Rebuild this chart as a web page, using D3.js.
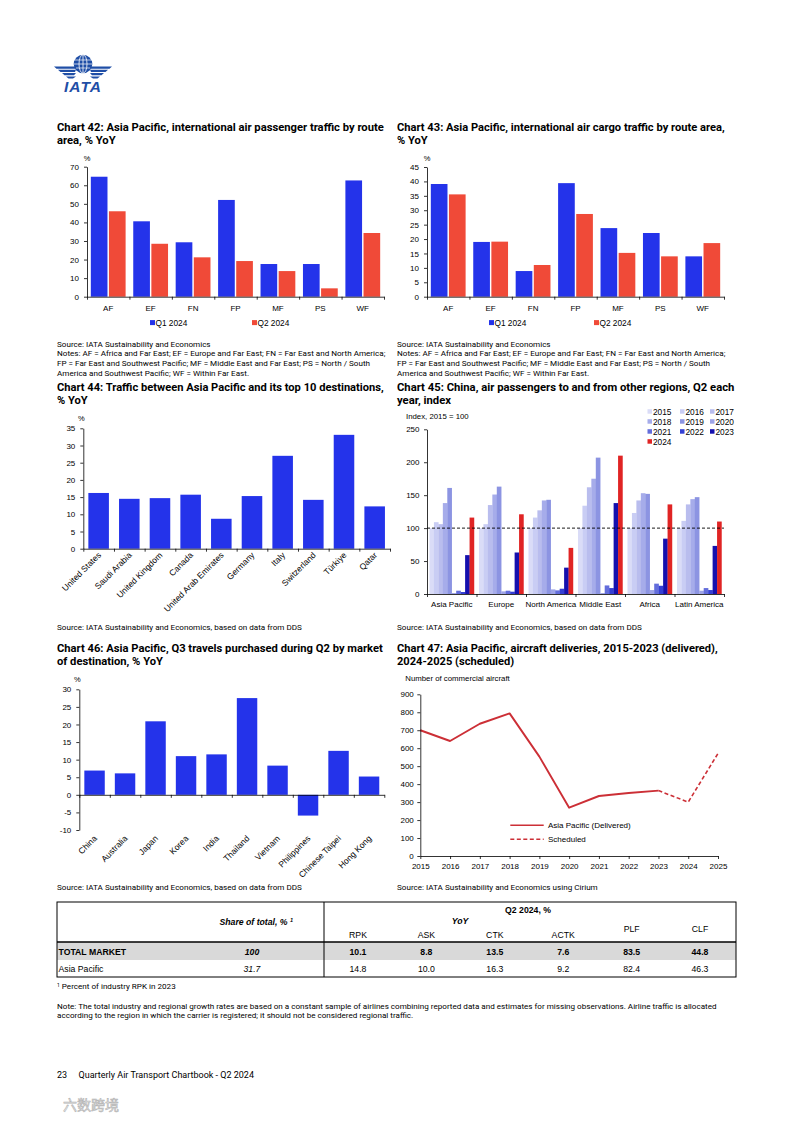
<!DOCTYPE html>
<html>
<head>
<meta charset="utf-8">
<title>Quarterly Air Transport Chartbook - Q2 2024, page 23</title>
<script src="https://cdn.jsdelivr.net/npm/d3@7"></script>
<style>
  body { margin: 0; background: #fff; }
  svg text { font-family: "Liberation Sans", Arial, sans-serif; fill: #000; }
  .title { font-family: Roboto, sans-serif; font-weight: 700; font-size: 11.5px; }
  .note { font-family: Roboto, sans-serif; font-size: 8.1px; }
  .axis path, .axis line { stroke: #000; stroke-width: 0.8px; }
  .axis text { font-family: "Liberation Sans", Arial, sans-serif; font-size: 8px; }
  .tbl { font-family: Roboto, sans-serif; font-size: 8.7px; }
</style>
</head>
<body>
<svg id="page" width="793" height="1121"></svg>
<script>

////////////////////////////////////////////////////////
// data
////////////////////////////////////////////////////////

// charts 42 and 43: route areas, % YoY
var routeAreas = ["AF", "EF", "FN", "FP", "MF", "PS", "WF"];
var quarters   = ["Q1 2024", "Q2 2024"];
var paxQ1   = [64.6, 40.6, 29.3, 52.1, 17.6, 17.6, 62.6];
var paxQ2   = [46.0, 28.5, 21.2, 19.2, 13.8, 4.5, 34.3];
var cargoQ1 = [39.1, 19.0, 8.9, 39.4, 23.8, 22.1, 14.0];
var cargoQ2 = [35.5, 19.1, 11.0, 28.7, 15.2, 14.0, 18.6];

// chart 44: top 10 destinations, % YoY
var destinations = ["United States", "Saudi Arabia", "United Kingdom", "Canada",
                    "United Arab Emirates", "Germany", "Italy", "Switzerland",
                    "Türkiye", "Qatar"];
var destinationsYoY = [16.2, 14.5, 14.7, 15.7, 8.7, 15.3, 27.0, 14.2, 33.1, 12.3];

// chart 45: China, index 2015 = 100, Q2 of each year
var chinaRegions = ["Asia Pacific", "Europe", "North America", "Middle East", "Africa", "Latin America"];
var chinaYears   = ["2015", "2016", "2017", "2018", "2019", "2020", "2021", "2022", "2023", "2024"];
var idxAsiaPacific  = [100, 109, 106, 138, 161, 1.5, 5, 3, 59, 116];
var idxEurope       = [100, 106, 135, 151, 163, 4, 5, 3.5, 63, 121];
var idxNorthAmerica = [100, 116, 127, 142, 143, 7, 5.5, 8, 40, 70];
var idxMiddleEast   = [100, 134, 162, 175, 207, 1.5, 13, 9, 138, 210];
var idxAfrica       = [100, 123, 142, 153, 152, 6, 15.7, 12.5, 84, 136];
var idxLatinAmerica = [100, 111, 136, 144, 147, 5, 9, 6, 73, 110];

// chart 46: Q3 travel bought during Q2, % YoY
var q3Markets = ["China", "Australia", "Japan", "Korea", "India", "Thailand",
                 "Vietnam", "Philippines", "Chinese Taipei", "Hong Kong"];
var q3MarketsYoY = [6.9, 6.1, 20.9, 11.0, 11.5, 27.5, 8.3, -5.9, 12.5, 5.2];

// chart 47: aircraft deliveries
var deliveryYears  = [2015, 2016, 2017, 2018, 2019, 2020, 2021, 2022, 2023];
var delivered      = [700, 640, 736, 794, 553, 269, 334, 351, 364];
var scheduledYears = [2023, 2024, 2025];
var scheduled      = [364, 300, 571];
var yearTicks      = [2015, 2016, 2017, 2018, 2019, 2020, 2021, 2022, 2023, 2024, 2025];

// table
var tblColumns = ["RPK", "ASK", "CTK", "ACTK", "PLF", "CLF"];
var tblRows    = ["TOTAL MARKET", "Asia Pacific"];
var tblShare   = ["100", "31.7"];
var tblTotal   = ["10.1", "8.8", "13.5", "7.6", "83.5", "44.8"];
var tblAsia    = ["14.8", "10.0", "16.3", "9.2", "82.4", "46.3"];

// colours
var BLUE = "#2433ea";
var RED  = "#f04a38";
var IATA_BLUE = "#1f4ea6";
var yearColors = ["#dadcf7", "#c9cdf4", "#b9bdee", "#a6acea", "#8c94e2",
                  "#9ea4e7", "#636ddb", "#3540d4", "#1510ae", "#e02424"];

var svg = d3.select("#page");

////////////////////////////////////////////////////////
// small text helpers
////////////////////////////////////////////////////////

function title(x, y, lines, width) {
    var t = svg.append("text").attr("class", "title");
    lines.forEach(function (l, i) {
        t.append("tspan").attr("x", 0).attr("y", i * 13.8).text(l);
    });
    // the report font is condensed, squeeze the first line to its width
    var w = t.select("tspan").node().getComputedTextLength();
    t.attr("transform", "translate(" + x + "," + y + ") scale(" + (width / w) + ",1)");
}

function notes(x, y, lines) {
    var t = svg.append("text").attr("class", "note");
    lines.forEach(function (l, i) {
        t.append("tspan").attr("x", x).attr("y", y + i * 9.9).text(l);
    });
}

function label(x, y, str, anchor, size) {
    return svg.append("text")
        .attr("x", x).attr("y", y)
        .attr("text-anchor", anchor || "start")
        .style("font-size", (size || 8) + "px")
        .text(str);
}

// boundary ticks between categories (Excel style)
function categoryTicks(n, x0, x1, yPos) {
    var s = d3.scaleLinear().domain([0, n]).range([x0, x1]);
    svg.append("g")
        .attr("class", "axis")
        .attr("transform", "translate(0," + yPos + ")")
        .call(d3.axisBottom(s).tickValues(d3.range(n + 1)).tickFormat("")
              .tickSizeInner(3).tickSizeOuter(0));
}

////////////////////////////////////////////////////////
// grouped bars, two quarters (charts 42 and 43)
////////////////////////////////////////////////////////

function groupedBars(cfg) {
    var x = d3.scaleBand().domain(routeAreas).range([cfg.x0, cfg.x1])
              .paddingInner(0.18).paddingOuter(0.09);
    var xs = d3.scaleBand().domain(quarters).range([0, x.bandwidth()]).paddingInner(0.08);
    var y = d3.scaleLinear().domain([0, cfg.max]).range([cfg.y0, cfg.y1]);
    var series = [cfg.q1, cfg.q2];
    var colors = [BLUE, RED];

    var g = svg.append("g");
    quarters.forEach(function (q, k) {
        g.selectAll(null).data(series[k]).join("rect")
            .attr("x", function (d, i) { return x(routeAreas[i]) + xs(q); })
            .attr("width", xs.bandwidth())
            .attr("y", function (d) { return y(d); })
            .attr("height", function (d) { return y(0) - y(d); })
            .attr("fill", colors[k]);
    });

    svg.append("g").attr("class", "axis")
        .attr("transform", "translate(" + cfg.x0 + ",0)")
        .call(d3.axisLeft(y).tickValues(d3.range(0, cfg.max + 1, cfg.step))
              .tickSizeInner(3).tickSizeOuter(0).tickPadding(5));

    categoryTicks(routeAreas.length, cfg.x0, cfg.x1, y(0));

    var xl = svg.append("g").attr("class", "axis")
        .attr("transform", "translate(0," + y(0) + ")")
        .call(d3.axisBottom(x).tickSize(0).tickPadding(8.5));
    xl.select(".domain").remove();

    label(cfg.x0, cfg.y1 - 6, "%", "middle", 7.5);

    // legend
    quarters.forEach(function (q, k) {
        svg.append("rect").attr("x", cfg.legend[k]).attr("y", cfg.legendY - 2.6)
            .attr("width", 5).attr("height", 5).attr("fill", colors[k]);
        label(cfg.legend[k] + 5.5, cfg.legendY + 2.9, q, "start", 8.3);
    });
}

////////////////////////////////////////////////////////
// single series bars with slanted labels (charts 44 and 46)
////////////////////////////////////////////////////////

function simpleBars(cfg) {
    var x = d3.scaleBand().domain(cfg.cats).range([cfg.x0, cfg.x1])
              .paddingInner(0.33).paddingOuter(0.165);
    var y = d3.scaleLinear().domain([cfg.min, cfg.max]).range([cfg.y0, cfg.y1]);

    svg.append("g").selectAll(null).data(cfg.values).join("rect")
        .attr("x", function (d, i) { return x(cfg.cats[i]); })
        .attr("width", x.bandwidth())
        .attr("y", function (d) { return y(Math.max(0, d)); })
        .attr("height", function (d) { return Math.abs(y(d) - y(0)); })
        .attr("fill", BLUE);

    svg.append("g").attr("class", "axis")
        .attr("transform", "translate(" + cfg.x0 + ",0)")
        .call(d3.axisLeft(y).tickValues(d3.range(cfg.min, cfg.max + 1, cfg.step))
              .tickFormat(function (d) { return String(d); })
              .tickSizeInner(3).tickSizeOuter(0).tickPadding(5));

    categoryTicks(cfg.cats.length, cfg.x0, cfg.x1, y(0));

    // slanted category labels, the rotation as in the report
    var yl = y(cfg.min) + cfg.labelGap;
    svg.append("g").selectAll(null).data(cfg.cats).join("text")
        .attr("text-anchor", "end")
        .style("font-size", "8.5px")
        .attr("transform", function (d) {
            return "translate(" + (x(d) + x.bandwidth() / 2 + 3) + "," + yl + ") rotate(-45)";
        })
        .text(function (d) { return d; });

    label(cfg.x0 - 2, cfg.y1 - 7, "%", "middle", 7.5);
}

////////////////////////////////////////////////////////
// page header: IATA logo
////////////////////////////////////////////////////////

var logo = svg.append("g");
logo.append("circle").attr("cx", 83).attr("cy", 64).attr("r", 9.3).attr("fill", IATA_BLUE);
logo.append("ellipse").attr("cx", 83).attr("cy", 64).attr("rx", 4).attr("ry", 9.3)
    .attr("fill", "none").attr("stroke", "#fff").attr("stroke-width", 0.8);
logo.append("line").attr("x1", 83).attr("x2", 83).attr("y1", 54.7).attr("y2", 73.3)
    .attr("stroke", "#fff").attr("stroke-width", 0.8);
[60, 64, 68].forEach(function (yy) {
    logo.append("line").attr("x1", 74).attr("x2", 92).attr("y1", yy).attr("y2", yy)
        .attr("stroke", "#fff").attr("stroke-width", 0.7);
});
[0, 1, 2, 3].forEach(function (i) {
    var yy = 66.5 + i * 3.3, len = 21 - i * 4;
    logo.append("path").attr("fill", IATA_BLUE)
        .attr("d", "M" + (75 - len) + "," + yy + " L76," + yy + " L" + (76 - i) + "," + (yy + 2.2) +
                   " L" + (77.5 - len) + "," + (yy + 2.2) + "Z");
    logo.append("path").attr("fill", IATA_BLUE)
        .attr("d", "M" + (91 + len) + "," + yy + " L90," + yy + " L" + (90 + i) + "," + (yy + 2.2) +
                   " L" + (88.5 + len) + "," + (yy + 2.2) + "Z");
});
logo.append("text").attr("x", 83).attr("y", 91.5).attr("text-anchor", "middle")
    .style("font-size", "15.5px").style("font-weight", "700").style("font-style", "italic")
    .style("letter-spacing", "1px").style("fill", IATA_BLUE)
    .text("IATA");

////////////////////////////////////////////////////////
// chart 42
////////////////////////////////////////////////////////

title(57, 130.5, ["Chart 42: Asia Pacific, international air passenger traffic by route",
                  "area, % YoY"], 327);
groupedBars({ q1: paxQ1, q2: paxQ2, max: 70, step: 10,
              x0: 87, x1: 384, y0: 296.7, y1: 166.7,
              legend: [150, 252], legendY: 322.7 });

var routeNotes = ["Notes: AF = Africa and Far East; EF = Europe and Far East; FN = Far East and North America;",
                  "FP = Far East and Southwest Pacific; MF = Middle East and Far East; PS = North / South",
                  "America and Southwest Pacific; WF = Within Far East."];
notes(57, 346.5, ["Source: IATA Sustainability and Economics"].concat(routeNotes));

////////////////////////////////////////////////////////
// chart 43
////////////////////////////////////////////////////////

title(397, 130.5, ["Chart 43: Asia Pacific, international air cargo traffic by route area,",
                   "% YoY"], 328);
groupedBars({ q1: cargoQ1, q2: cargoQ2, max: 45, step: 5,
              x0: 427, x1: 724, y0: 296.7, y1: 167,
              legend: [489, 594], legendY: 322.7 });
notes(397, 346.5, ["Source: IATA Sustainability and Economics"].concat(routeNotes));

////////////////////////////////////////////////////////
// chart 44
////////////////////////////////////////////////////////

title(57, 390.5, ["Chart 44: Traffic between Asia Pacific and its top 10 destinations,",
                  "% YoY"], 327);
simpleBars({ cats: destinations, values: destinationsYoY, min: 0, max: 35, step: 5,
             x0: 83.3, x1: 390, y0: 548.7, y1: 428.3, labelGap: 7 });
notes(57, 630, ["Source: IATA Sustainability and Economics, based on data from DDS"]);

////////////////////////////////////////////////////////
// chart 45
////////////////////////////////////////////////////////

title(397, 390.5, ["Chart 45: China, air passengers to and from other regions, Q2 each",
                   "year, index"], 338);

(function () {
    var x0 = 427, x1 = 724, yb = 594, yt = 429.3;
    var table = [idxAsiaPacific, idxEurope, idxNorthAmerica, idxMiddleEast, idxAfrica, idxLatinAmerica];
    var x = d3.scaleBand().domain(chinaRegions).range([x0, x1]).paddingInner(0.1).paddingOuter(0.05);
    var xs = d3.scaleBand().domain(chinaYears).range([0, x.bandwidth()]);
    var y = d3.scaleLinear().domain([0, 250]).range([yb, yt]);

    var grp = svg.append("g").selectAll("g").data(chinaRegions).join("g")
        .attr("transform", function (d) { return "translate(" + x(d) + ",0)"; });
    grp.selectAll("rect")
        .data(function (d, i) { return table[i]; })
        .join("rect")
        .attr("x", function (d, j) { return xs(chinaYears[j]); })
        .attr("width", xs.bandwidth() + 0.2)
        .attr("y", function (d) { return y(d); })
        .attr("height", function (d) { return yb - y(d); })
        .attr("fill", function (d, j) { return yearColors[j]; });

    // base 2015 = 100
    svg.append("line").attr("x1", x0).attr("x2", x1).attr("y1", y(100)).attr("y2", y(100))
        .attr("stroke", "#000").attr("stroke-width", 0.9).attr("stroke-dasharray", "3,2");

    svg.append("g").attr("class", "axis")
        .attr("transform", "translate(" + x0 + ",0)")
        .call(d3.axisLeft(y).tickValues(d3.range(0, 251, 50))
              .tickSizeInner(3).tickSizeOuter(0).tickPadding(4.5));
    categoryTicks(chinaRegions.length, x0, x1, yb);
    var xl = svg.append("g").attr("class", "axis")
        .attr("transform", "translate(0," + yb + ")")
        .call(d3.axisBottom(x).tickSize(0).tickPadding(7));
    xl.select(".domain").remove();

    label(406, 419.3, "Index, 2015 = 100", "start", 7.8);

    // legend, three columns
    var lx = [647.5, 680, 710];
    chinaYears.forEach(function (yr, i) {
        var cx = lx[i % 3], cy = 411.7 + Math.floor(i / 3) * 10;
        svg.append("rect").attr("x", cx).attr("y", cy - 2.5).attr("width", 4.5).attr("height", 4.5)
            .attr("fill", yearColors[i]);
        label(cx + 5.5, cy + 3, yr, "start", 8.3);
    });
})();
notes(397, 630, ["Source: IATA Sustainability and Economics, based on data from DDS"]);

////////////////////////////////////////////////////////
// chart 46
////////////////////////////////////////////////////////

title(57, 651.5, ["Chart 46: Asia Pacific, Q3 travels purchased during Q2 by market",
                  "of destination, % YoY"], 326);
simpleBars({ cats: q3Markets, values: q3MarketsYoY, min: -10, max: 30, step: 5,
             x0: 79.3, x1: 384.3, y0: 830, y1: 689.3, labelGap: 9 });
notes(57, 890, ["Source: IATA Sustainability and Economics, based on data from DDS"]);

////////////////////////////////////////////////////////
// chart 47
////////////////////////////////////////////////////////

title(397, 651.5, ["Chart 47: Asia Pacific, aircraft deliveries, 2015-2023 (delivered),",
                   "2024-2025 (scheduled)"], 321);

(function () {
    var x = d3.scaleLinear().domain([2015, 2025]).range([420.3, 718]);
    var y = d3.scaleLinear().domain([0, 900]).range([856, 694.3]);
    var LINE = "#cc2f36";

    var line = d3.line()
        .x(function (d) { return x(d[0]); })
        .y(function (d) { return y(d[1]); });

    svg.append("path")
        .datum(d3.zip(deliveryYears, delivered))
        .attr("fill", "none").attr("stroke", LINE).attr("stroke-width", 1.9)
        .attr("stroke-linejoin", "round")
        .attr("d", line);
    svg.append("path")
        .datum(d3.zip(scheduledYears, scheduled))
        .attr("fill", "none").attr("stroke", LINE).attr("stroke-width", 1.6)
        .attr("stroke-dasharray", "4,2.5")
        .attr("d", line);

    svg.append("g").attr("class", "axis")
        .attr("transform", "translate(" + x(2015) + ",0)")
        .call(d3.axisLeft(y).tickValues(d3.range(0, 901, 100))
              .tickSizeInner(3).tickSizeOuter(0).tickPadding(3.5));
    svg.append("g").attr("class", "axis")
        .attr("transform", "translate(0," + y(0) + ")")
        .call(d3.axisBottom(x).tickValues(yearTicks)
              .tickFormat(function (d) { return String(d); })
              .tickSizeInner(3).tickSizeOuter(0).tickPadding(4));

    label(405.3, 681, "Number of commercial aircraft", "start", 7.8);

    // legend
    svg.append("line").attr("x1", 510.3).attr("x2", 543.7).attr("y1", 825.3).attr("y2", 825.3)
        .attr("stroke", LINE).attr("stroke-width", 1.6);
    svg.append("line").attr("x1", 510.3).attr("x2", 543.7).attr("y1", 839.3).attr("y2", 839.3)
        .attr("stroke", LINE).attr("stroke-width", 1.6).attr("stroke-dasharray", "4,2.5");
    label(548, 828, "Asia Pacific (Delivered)", "start", 8);
    label(548, 842, "Scheduled", "start", 8);
})();
notes(397, 890, ["Source: IATA Sustainability and Economics using Cirium"]);

////////////////////////////////////////////////////////
// summary table
////////////////////////////////////////////////////////

(function () {
    var L = 57, R = 736, T = 902, H = 942, M = 960, B = 977, DIV = 324;
    var cx = d3.scalePoint().domain(tblColumns).range([358, 700]);
    var tb = svg.append("g").attr("class", "tbl");

    tb.append("rect").attr("x", L).attr("y", H).attr("width", R - L).attr("height", M - H)
        .attr("fill", "#d9d9d9");
    tb.append("rect").attr("x", L).attr("y", T).attr("width", R - L).attr("height", B - T)
        .attr("fill", "none").attr("stroke", "#000").attr("stroke-width", 1);
    tb.append("line").attr("x1", L).attr("x2", R).attr("y1", H).attr("y2", H)
        .attr("stroke", "#000").attr("stroke-width", 1.4);
    tb.append("line").attr("x1", DIV).attr("x2", DIV).attr("y1", T).attr("y2", B)
        .attr("stroke", "#000").attr("stroke-width", 1);

    function cell(x, y, str, anchor, bold, italic) {
        tb.append("text").attr("x", x).attr("y", y).attr("text-anchor", anchor)
            .style("font-weight", bold ? 700 : 400)
            .style("font-style", italic ? "italic" : "normal")
            .text(str);
    }

    cell(528, 912.5, "Q2 2024, %", "middle", true, false);
    cell(460, 923.5, "YoY", "middle", true, true);
    var sh = tb.append("text").attr("x", 293).attr("y", 925).attr("text-anchor", "end")
        .style("font-weight", 700).style("font-style", "italic").text("Share of total, % ");
    sh.append("tspan").attr("dy", -3).style("font-size", "5.5px").text("1");

    tblColumns.forEach(function (c, i) {
        cell(cx(c), i < 4 ? 937.5 : 931.5, c, "middle", false, false);
        cell(cx(c), 954.5, tblTotal[i], "middle", true, false);
        cell(cx(c), 972, tblAsia[i], "middle", false, false);
    });
    cell(58.5, 954.5, tblRows[0], "start", true, false);
    cell(58.5, 972, tblRows[1], "start", false, false);
    cell(252, 954.5, tblShare[0], "middle", true, true);
    cell(252, 972, tblShare[1], "middle", false, true);
})();

var fn = svg.append("text").attr("class", "note").attr("x", 57).attr("y", 989);
fn.append("tspan").attr("dy", -2).style("font-size", "5px").text("1");
fn.append("tspan").attr("dy", 2).text(" Percent of industry RPK in 2023");

notes(57, 1008.5, [
    "Note: The total industry and regional growth rates are based on a constant sample of airlines combining reported data and estimates for missing observations. Airline traffic is allocated",
    "according to the region in which the carrier is registered; it should not be considered regional traffic."
]);

////////////////////////////////////////////////////////
// footer
////////////////////////////////////////////////////////

svg.append("text").attr("x", 57).attr("y", 1078)
    .style("font-family", "Roboto, sans-serif").style("font-size", "9px")
    .text("23\u2003 Quarterly Air Transport Chartbook - Q2 2024");

svg.append("text").attr("x", 63).attr("y", 1110)
    .style("font-family", "'Noto Sans CJK SC', sans-serif").style("font-size", "14px")
    .style("fill", "#ececec").attr("stroke", "#b4b4b4").attr("stroke-width", 0.6)
    .text("六数跨境");

</script>
</body>
</html>
